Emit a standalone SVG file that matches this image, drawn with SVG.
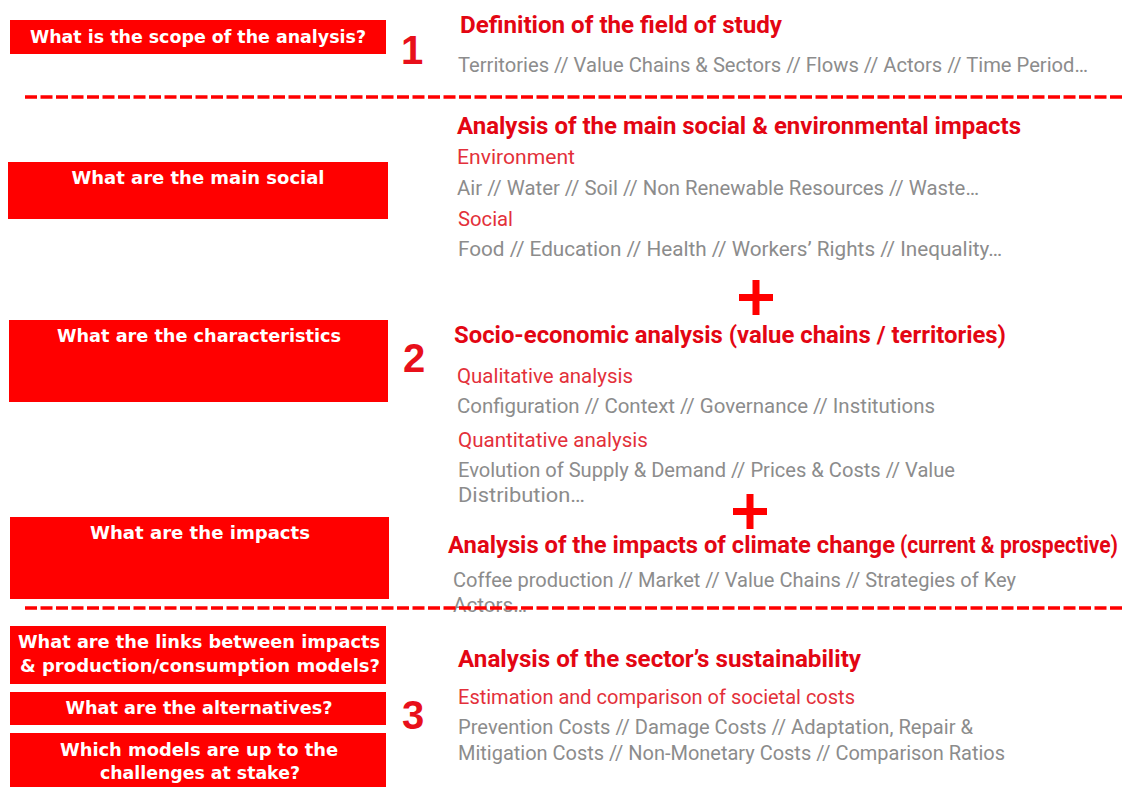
<svg xmlns="http://www.w3.org/2000/svg" width="1123" height="787" viewBox="0 0 1123 787">
<style>
.q{fill:#ff0000}
.qt{fill:#ffffff;font-family:"Comic Sans MS","DejaVu Sans",sans-serif;font-weight:bold;font-size:18px;text-anchor:middle}
.num{fill:#e8101a;font-family:"Liberation Sans",sans-serif;font-weight:bold;font-size:40px;text-anchor:middle}
.h{fill:#e30613;font-family:"Roboto","Liberation Sans",sans-serif;font-weight:bold;font-size:23px}
.s{fill:#e3303a;font-family:"Roboto","Liberation Sans",sans-serif;font-size:20px}
.g{fill:#8c8c8c;font-family:"Roboto","Liberation Sans",sans-serif;font-size:20px}
.sep{stroke:#ff0000;stroke-width:3.5;stroke-dasharray:12 3.5;fill:none}
.plus{fill:#ff0000}
</style>
<g id="q1"><rect class="q" x="10" y="20" width="376" height="34"/><text class="qt" x="198" y="43" textLength="336" lengthAdjust="spacingAndGlyphs">What is the scope of the analysis?</text></g>
<g id="q2"><rect class="q" x="8" y="162" width="380" height="57"/><text class="qt" x="198" y="184" textLength="253" lengthAdjust="spacingAndGlyphs">What are the main social</text></g>
<g id="q3"><rect class="q" x="9" y="320" width="379" height="82"/><text class="qt" x="199" y="342" textLength="284" lengthAdjust="spacingAndGlyphs">What are the characteristics</text></g>
<g id="q4"><rect class="q" x="10" y="517" width="379" height="82"/><text class="qt" x="200" y="539" textLength="220" lengthAdjust="spacingAndGlyphs">What are the impacts</text></g>
<g id="q5"><rect class="q" x="10" y="626" width="376" height="58"/><text class="qt" x="199" y="648" textLength="362" lengthAdjust="spacingAndGlyphs">What are the links between impacts</text><text class="qt" x="200" y="672" textLength="360" lengthAdjust="spacingAndGlyphs">&amp; production/consumption models?</text></g>
<g id="q6"><rect class="q" x="10" y="692" width="376" height="33"/><text class="qt" x="199" y="714" textLength="267" lengthAdjust="spacingAndGlyphs">What are the alternatives?</text></g>
<g id="q7"><rect class="q" x="10" y="733" width="376" height="54"/><text class="qt" x="199" y="756" textLength="278" lengthAdjust="spacingAndGlyphs">Which models are up to the</text><text class="qt" x="200" y="779" textLength="200" lengthAdjust="spacingAndGlyphs">challenges at stake?</text></g>
<g id="n1"><text class="num" x="412" y="64">1</text></g>
<g id="n2"><text class="num" x="414" y="372">2</text></g>
<g id="n3"><text class="num" x="413" y="729">3</text></g>
<g id="s1">
<text class="h" x="460" y="33" textLength="322" lengthAdjust="spacingAndGlyphs">Definition of the field of study</text>
<text class="g" x="458" y="72" textLength="630" lengthAdjust="spacingAndGlyphs">Territories // Value Chains &amp; Sectors // Flows // Actors // Time Period…</text>
</g>
<g id="s2a">
<text class="h" x="457" y="134" textLength="564" lengthAdjust="spacingAndGlyphs">Analysis of the main social &amp; environmental impacts</text>
<text class="s" x="457" y="164" textLength="118" lengthAdjust="spacingAndGlyphs">Environment</text>
<text class="g" x="457" y="195" textLength="522" lengthAdjust="spacingAndGlyphs">Air // Water // Soil // Non Renewable Resources // Waste…</text>
<text class="s" x="458" y="226" textLength="55" lengthAdjust="spacingAndGlyphs">Social</text>
<text class="g" x="458" y="256" textLength="544" lengthAdjust="spacingAndGlyphs">Food // Education // Health // Workers’ Rights // Inequality…</text>
</g>
<g id="plus1"><rect class="plus" x="739" y="294" width="34" height="7"/><rect class="plus" x="752.5" y="280" width="7" height="35"/></g>
<g id="s2b">
<text class="h" x="454" y="343" textLength="552" lengthAdjust="spacingAndGlyphs">Socio-economic analysis (value chains / territories)</text>
<text class="s" x="457" y="383" textLength="176" lengthAdjust="spacingAndGlyphs">Qualitative analysis</text>
<text class="g" x="457" y="413" textLength="478" lengthAdjust="spacingAndGlyphs">Configuration // Context // Governance // Institutions</text>
<text class="s" x="458" y="447" textLength="190" lengthAdjust="spacingAndGlyphs">Quantitative analysis</text>
<text class="g" x="458" y="477" textLength="497" lengthAdjust="spacingAndGlyphs">Evolution of Supply &amp; Demand // Prices &amp; Costs // Value</text>
<text class="g" x="458" y="502" textLength="127" lengthAdjust="spacingAndGlyphs">Distribution…</text>
</g>
<g id="plus2"><rect class="plus" x="733" y="508" width="34" height="7"/><rect class="plus" x="746.5" y="494" width="7" height="35"/></g>
<g id="s2c">
<text class="h" x="448" y="553" font-size="24" textLength="447" lengthAdjust="spacingAndGlyphs">Analysis of the impacts of climate change</text>
<text class="h" x="900" y="553" font-size="17" textLength="218" lengthAdjust="spacingAndGlyphs">(current &amp; prospective)</text>
<text class="g" x="453" y="587" textLength="563" lengthAdjust="spacingAndGlyphs">Coffee production // Market // Value Chains // Strategies of Key</text>
<text class="g" x="453" y="612" textLength="74" lengthAdjust="spacingAndGlyphs">Actors…</text>
</g>
<g id="s3">
<text class="h" x="458" y="667" textLength="403" lengthAdjust="spacingAndGlyphs">Analysis of the sector’s sustainability</text>
<text class="s" x="458" y="704" textLength="397" lengthAdjust="spacingAndGlyphs">Estimation and comparison of societal costs</text>
<text class="g" x="458" y="734" textLength="515" lengthAdjust="spacingAndGlyphs">Prevention Costs // Damage Costs // Adaptation, Repair &amp;</text>
<text class="g" x="458" y="760" textLength="547" lengthAdjust="spacingAndGlyphs">Mitigation Costs // Non-Monetary Costs // Comparison Ratios</text>
</g>
<g id="separators">
<line class="sep" x1="25" y1="97" x2="1123" y2="97"/>
<line class="sep" x1="25" y1="608" x2="1123" y2="608"/>
</g>
</svg>
